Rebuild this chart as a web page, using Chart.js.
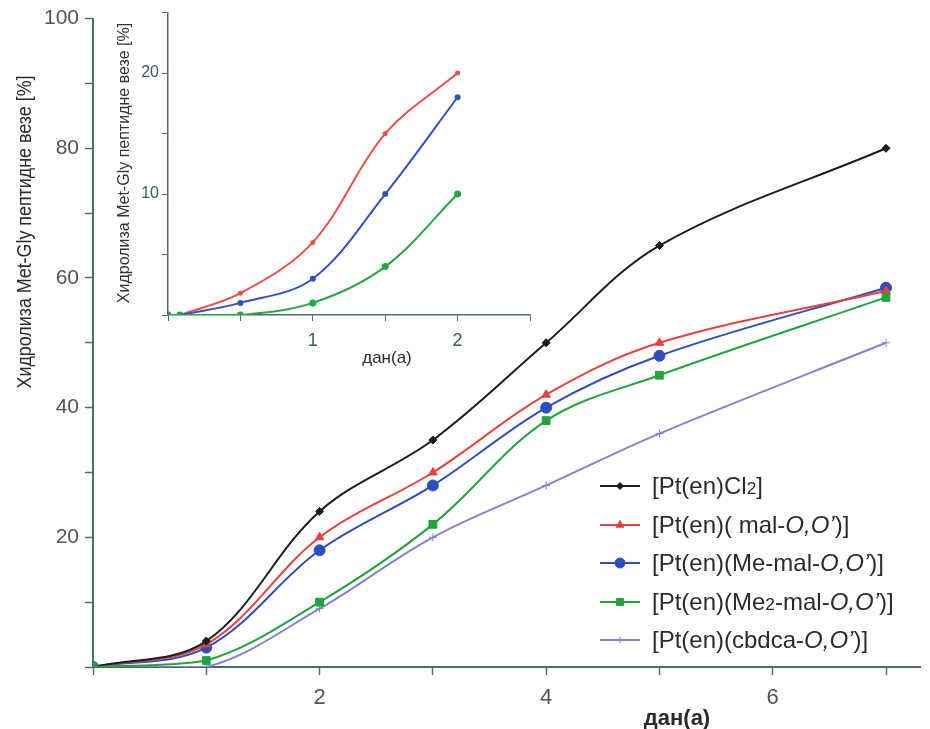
<!DOCTYPE html>
<html>
<head>
<meta charset="utf-8">
<script src="https://cdn.jsdelivr.net/npm/chart.js@4/dist/chart.umd.min.js"></script>
<style>
  body { margin: 0; background: #fff; }
  #wrap { position: relative; width: 930px; height: 729px; }
  #main { position: absolute; left: 0; top: 0; }
  #inset { position: absolute; left: 110px; top: 0; }
  #legend { position: absolute; left: 598px; top: 467px; font-family: "Liberation Sans", Arial, sans-serif; font-size: 24px; color: #2b2b2b; }
  .row { display: flex; align-items: center; height: 38.5px; white-space: nowrap; }
  .row canvas { margin-right: 10px; }
  sub { font-size: 72%; vertical-align: baseline; }
</style>
</head>
<body>
<div id="wrap">
  <canvas id="main" width="930" height="729"></canvas>
  <canvas id="inset" width="430" height="370"></canvas>
  <div id="legend"></div>
</div>
<script>
// main chart data (days vs % hydrolysis)
const days = [0, 1, 2, 3, 4, 5, 7];
const cl2 = [0, 4, 24, 35, 50, 65, 80];
const mal = [0, 3.5, 20, 30, 42, 50, 58];
const meMal = [0, 3, 18, 28, 40, 48, 58.5];
const me2Mal = [0, 1, 10, 22, 38, 45, 57];
const cbdca = [0, 0, 9, 20, 28, 36, 50];

const seriesNames = ["[Pt(en)Cl2]", "[Pt(en)( mal-O,O')]", "[Pt(en)(Me-mal-O,O')]", "[Pt(en)(Me2-mal-O,O')]", "[Pt(en)(cbdca-O,O')]"];
const legendHtml = ["[Pt(en)Cl<sub>2</sub>]", "[Pt(en)( mal-<i>O,O’</i>)]", "[Pt(en)(Me-mal-<i>O,O’</i>)]", "[Pt(en)(Me<sub>2</sub>-mal-<i>O,O’</i>)]", "[Pt(en)(cbdca-<i>O,O’</i>)]"];
const colors = ["#1c1c1c", "#e8423c", "#2d4fbd", "#1fa53c", "#8c7fd0"];
const pointStyles = ["rectRot", "triangle", "circle", "rect", "cross"];
const pointSizes = [4, 5, 5.5, 5.5, 4];

const xTicks = [0, 1, 2, 3, 4, 5, 6, 7];
const xLabels = [2, 4, 6];
const yTicks = [0, 10, 20, 30, 40, 50, 60, 70, 80, 90, 100];
const yLabels = [20, 40, 60, 80, 100];

// inset data (first two days)
const insetDays = [0, 0.083, 0.5, 1, 1.5, 2];
const insetMal = [null, 0, 1.8, 6, 15, 20];
const insetMeMal = [null, 0, 1, 3, 10, 18];
const insetMe2Mal = [0, 0, 0, 1, 4, 10];
const insetXTicks = [0, 0.5, 1, 1.5, 2, 2.5];
const insetXLabels = [1, 2];
const insetYTicks = [0, 5, 10, 15, 20, 25];
const insetYLabels = [10, 20];

const yTitle = "Хидролиза Met-Gly пептидне везе [%]";
const xTitle = "дан(а)";
const axisColor = "#4f6a70";

Chart.defaults.font.family = '"Liberation Sans", Arial, sans-serif';

// free-placed axis titles; len squeezes the text to a given width
const axisTitles = {
  id: 'axisTitles',
  afterDraw(chart, args, opts) {
    const ctx = chart.ctx;
    (opts.items || []).forEach(t => {
      ctx.save();
      ctx.font = t.font;
      ctx.fillStyle = t.color;
      ctx.textAlign = 'center';
      ctx.textBaseline = 'middle';
      ctx.translate(t.x, t.y);
      if (t.rotate) ctx.rotate(-Math.PI / 2);
      if (t.len) {
        const w = ctx.measureText(t.text).width;
        ctx.scale(Math.min(1, t.len / w), 1);
      }
      ctx.fillText(t.text, 0, 0);
      ctx.restore();
    });
  }
};

function pts(xs, ys) {
  return xs.map((x, i) => ({ x, y: ys[i] })).filter(p => p.y !== null);
}

const mainSeries = [cl2, mal, meMal, me2Mal, cbdca];
new Chart(document.getElementById('main'), {
  type: 'line',
  data: {
    datasets: mainSeries.map((s, i) => ({
      label: seriesNames[i],
      data: pts(days, s),
      borderColor: colors[i],
      backgroundColor: colors[i],
      borderWidth: 2,
      pointStyle: pointStyles[i],
      pointRadius: pointSizes[i],
      pointBorderWidth: 1,
      tension: 0.35,
      order: i === 3 ? -1 : i
    }))
  },
  options: {
    responsive: false,
    animation: false,
    layout: { padding: { left: 0, top: 15, right: 10, bottom: 0 } },
    plugins: {
      legend: { display: false },
      tooltip: { enabled: false },
      axisTitles: {
        items: [
          { text: yTitle, x: 25, y: 232, rotate: true, len: 313, font: '21px "Liberation Sans", Arial, sans-serif', color: '#2b2b2b' },
          { text: xTitle, x: 677, y: 719, font: 'bold 22px "Liberation Sans", Arial, sans-serif', color: '#2b2b2b' }
        ]
      }
    },
    scales: {
      x: {
        type: 'linear', min: 0, max: 7.3,
        border: { color: axisColor, width: 2 },
        grid: { drawOnChartArea: false, color: axisColor, tickLength: 8, tickWidth: 1.5 },
        afterBuildTicks: s => { s.ticks = xTicks.map(v => ({ value: v })); },
        afterFit: s => { s.height = 62; },
        ticks: { autoSkip: false, maxRotation: 0, padding: 10, color: '#505558', font: { size: 22 },
          callback: v => xLabels.includes(v) ? String(v) : '' }
      },
      y: {
        type: 'linear', min: 0, max: 100,
        border: { color: axisColor, width: 2 },
        grid: { drawOnChartArea: false, color: axisColor, tickLength: 8, tickWidth: 1.5 },
        afterBuildTicks: s => { s.ticks = yTicks.map(v => ({ value: v })); },
        afterFit: s => { s.width = 93; },
        ticks: { autoSkip: false, padding: 6, color: '#505558', font: { size: 21 },
          callback: v => yLabels.includes(v) ? String(v) : '' }
      }
    }
  },
  plugins: [axisTitles]
});

const insetSeries = [insetMal, insetMeMal, insetMe2Mal];
const insetColors = ["#ee4e4a", "#3251c2", "#22a840"];
const insetRadius = [2.5, 3, 3.5];
new Chart(document.getElementById('inset'), {
  type: 'line',
  data: {
    datasets: insetSeries.map((s, i) => ({
      label: seriesNames[i + 1],
      data: pts(insetDays, s),
      borderColor: insetColors[i],
      backgroundColor: insetColors[i],
      borderWidth: 2,
      pointRadius: insetRadius[i],
      pointBorderWidth: 0,
      tension: 0.35,
      order: 2 - i
    }))
  },
  options: {
    responsive: false,
    animation: false,
    layout: { padding: { left: 0, top: 12, right: 10, bottom: 0 } },
    plugins: {
      legend: { display: false },
      tooltip: { enabled: false },
      axisTitles: {
        items: [
          { text: yTitle, x: 15, y: 163, rotate: true, len: 300, font: '16px "Liberation Sans", Arial, sans-serif', color: '#333' },
          { text: xTitle, x: 277, y: 358, font: '17px "Liberation Sans", Arial, sans-serif', color: '#2b2b2b' }
        ]
      }
    },
    scales: {
      x: {
        type: 'linear', min: 0, max: 2.5,
        border: { color: axisColor, width: 1.5 },
        grid: { drawOnChartArea: false, color: axisColor, tickLength: 6, tickWidth: 1 },
        afterBuildTicks: s => { s.ticks = insetXTicks.map(v => ({ value: v })); },
        afterFit: s => { s.height = 55; },
        ticks: { autoSkip: false, maxRotation: 0, padding: 9, color: '#3d5866', font: { size: 18 },
          callback: v => insetXLabels.includes(v) ? String(v) : '' }
      },
      y: {
        type: 'linear', min: 0, max: 25,
        border: { color: axisColor, width: 1.5 },
        grid: { drawOnChartArea: false, color: axisColor, tickLength: 6, tickWidth: 1 },
        afterBuildTicks: s => { s.ticks = insetYTicks.map(v => ({ value: v })); },
        afterFit: s => { s.width = 58; },
        ticks: { autoSkip: false, padding: 3, color: '#3d5866', font: { size: 16 },
          callback: v => insetYLabels.includes(v) ? String(v) : '' }
      }
    }
  },
  plugins: [axisTitles]
});

// html legend with line + marker swatches
const legend = document.getElementById('legend');
seriesNames.forEach((name, i) => {
  const row = document.createElement('div');
  row.className = 'row';
  const c = document.createElement('canvas');
  c.width = 44; c.height = 20;
  const ctx = c.getContext('2d');
  ctx.strokeStyle = colors[i];
  ctx.fillStyle = colors[i];
  ctx.lineWidth = 2;
  ctx.beginPath(); ctx.moveTo(2, 10); ctx.lineTo(42, 10); ctx.stroke();
  ctx.lineWidth = 1;
  Chart.helpers.drawPoint(ctx, { pointStyle: pointStyles[i], radius: pointSizes[i] - 0.5, borderWidth: 1, rotation: 0 }, 22, 10);
  const span = document.createElement('span');
  span.innerHTML = legendHtml[i];
  row.appendChild(c);
  row.appendChild(span);
  legend.appendChild(row);
});
</script>
</body>
</html>
